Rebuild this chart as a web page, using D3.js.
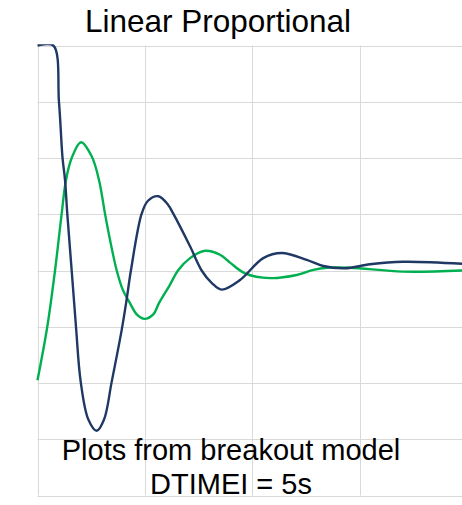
<!DOCTYPE html>
<html>
<head>
<meta charset="utf-8">
<script src="https://cdn.jsdelivr.net/npm/d3@7"></script>
<style>
  html, body { margin: 0; padding: 0; background: #fff; }
  svg { display: block; font-family: "Liberation Sans", Arial, sans-serif; }
</style>
</head>
<body>
<svg id="chart" width="462" height="505"></svg>
<script>
// Time axis (s) and response axis ranges
const xTicks = [0, 100, 200, 300];
const yTicks = [-4, -3, -2, -1, 0, 1, 2, 3, 4];

// Response of the breakout model (dark blue trace)
const blueTime  = [0, 14.7, 20.0, 23.3, 25.6, 27.7, 31.8, 35.8, 40.2, 47.3, 55.1, 61.9, 69.0, 78.3, 82.9, 86.9, 96.9, 102.8, 112.4, 121.4, 126.3, 141.9, 152.7, 162.0, 171.3, 188.4, 210.0, 227.2, 250.4, 265.9, 286.0, 309.3, 340.0, 394.9];
const blueValue = [4.0, 4.0, 2.99, 2.0, 1.61, 1.01, 0.0, -1.0, -1.98, -2.65, -2.85, -2.65, -1.98, -1.06, -0.52, 0.0, 1.01, 1.24, 1.32, 1.17, 1.01, 0.43, 0.0, -0.22, -0.34, -0.17, 0.22, 0.31, 0.19, 0.08, 0.04, 0.11, 0.155, 0.12];

// Linear proportional response (green trace)
const greenTime  = [0, 9.1, 16.3, 22.5, 26.5, 31.8, 40.5, 50.4, 57.2, 62.8, 67.4, 73.7, 79.3, 86.0, 92.3, 99.5, 107.7, 113.0, 123.3, 130.7, 141.9, 155.8, 169.8, 179.1, 193.0, 216.3, 241.1, 256.6, 269.0, 290.7, 340.0, 394.9];
const greenValue = [-1.95, -1.0, 0.0, 1.01, 1.61, 2.0, 2.28, 2.03, 1.61, 1.01, 0.55, 0.0, -0.34, -0.58, -0.78, -0.86, -0.78, -0.58, -0.25, 0.0, 0.22, 0.35, 0.28, 0.14, -0.05, -0.135, -0.08, 0.01, 0.05, 0.05, -0.02, 0.0];

const title = "Linear Proportional";
const noteLines = ["Plots from breakout model", "DTIMEI = 5s"];

const svg = d3.select("#chart");
const margin = { left: 37.5, top: 45.5, right: 0, bottom: 9.5 };
const W = 462, H = 505;

const x = d3.scaleLinear().domain([0, 394.9]).range([margin.left, W - margin.right]);
const y = d3.scaleLinear().domain([-4, 4]).range([H - margin.bottom, margin.top]);

// Grid
const grid = svg.append("g").attr("stroke", "#d9d9d9").attr("stroke-width", 1);
grid.selectAll("line.h").data(yTicks).join("line")
  .attr("class", "h")
  .attr("x1", x(0)).attr("x2", W)
  .attr("y1", d => Math.round(y(d)) + 0.5).attr("y2", d => Math.round(y(d)) + 0.5);
grid.selectAll("line.v").data(xTicks).join("line")
  .attr("class", "v")
  .attr("x1", d => Math.round(x(d)) + 0.5).attr("x2", d => Math.round(x(d)) + 0.5)
  .attr("y1", y(4)).attr("y2", y(-4));

// Title
svg.append("text")
  .attr("x", 218).attr("y", 31.5)
  .attr("text-anchor", "middle")
  .attr("font-size", 31.5)
  .attr("fill", "#000")
  .text(title);

// Traces
svg.append("clipPath").attr("id", "plotClip")
  .append("rect").attr("x", x(0) - 2).attr("y", y(4) - 1.2)
  .attr("width", W - x(0) + 2).attr("height", y(-4) - y(4) + 3);

const line = d3.line()
  .x(d => x(d[0])).y(d => y(d[1]))
  .curve(d3.curveCatmullRom.alpha(0.5));

const plot = svg.append("g").attr("clip-path", "url(#plotClip)");
plot.append("path")
  .datum(d3.zip(greenTime, greenValue))
  .attr("d", line)
  .attr("fill", "none")
  .attr("stroke", "#00b050")
  .attr("stroke-width", 2.4)
  .attr("stroke-linejoin", "round");
plot.append("path")
  .datum(d3.zip(blueTime, blueValue))
  .attr("d", line)
  .attr("fill", "none")
  .attr("stroke", "#1f3864")
  .attr("stroke-width", 2.4)
  .attr("stroke-linejoin", "round");

// Annotation
svg.append("text")
  .attr("x", 231).attr("y", 460)
  .attr("text-anchor", "middle")
  .attr("font-size", 29)
  .attr("fill", "#000")
  .selectAll("tspan").data(noteLines).join("tspan")
  .attr("x", 231)
  .attr("dy", (d, i) => i === 0 ? 0 : 34)
  .text(d => d);
</script>
</body>
</html>
